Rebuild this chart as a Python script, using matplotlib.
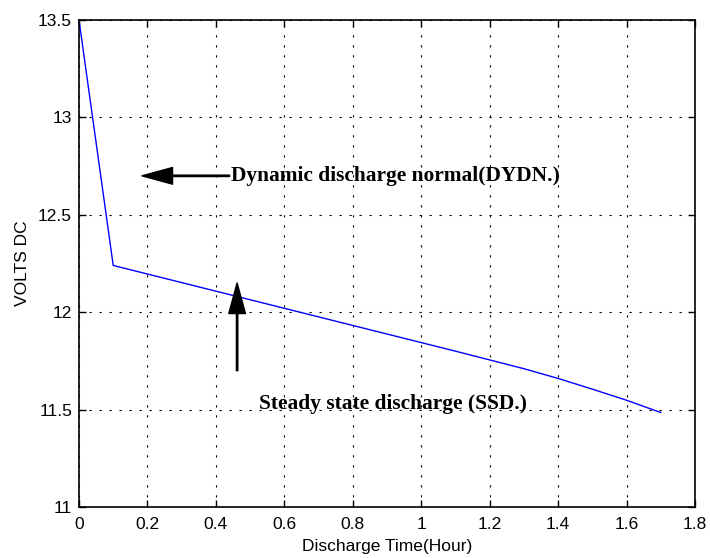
import matplotlib
matplotlib.use("Agg")
import matplotlib.pyplot as plt

time_h = [0, 0.1, 0.2, 0.3, 0.4, 0.5, 0.6, 0.7, 0.8, 0.9, 1.0, 1.1, 1.2, 1.3, 1.4, 1.5, 1.6, 1.7]
volts = [13.5, 12.24, 12.196, 12.152, 12.108, 12.064, 12.02, 11.976, 11.932, 11.888, 11.844, 11.80, 11.755, 11.71, 11.66, 11.605, 11.548, 11.485]
xticks = [0, 0.2, 0.4, 0.6, 0.8, 1, 1.2, 1.4, 1.6, 1.8]
xticklabels = ["0", "0.2", "0.4", "0.6", "0.8", "1", "1.2", "1.4", "1.6", "1.8"]
yticks = [11, 11.5, 12, 12.5, 13, 13.5]
yticklabels = ["11", "11.5", "12", "12.5", "13", "13.5"]

plt.rcParams['font.family'] = ['Liberation Sans', 'DejaVu Sans']
fig = plt.figure(figsize=(7.1, 5.58), dpi=100)
ax = fig.add_axes([79/710, 1-507/558, (695-79)/710, (507-20)/558])

ax.plot(time_h, volts, color='#0000ff', linewidth=1.0)
ax.set_xlim(0, 1.8)
ax.set_ylim(11, 13.5)
ax.set_xticks(xticks)
ax.set_xticklabels(xticklabels)
ax.set_yticks(yticks)
ax.set_yticklabels(yticklabels)
ax.tick_params(direction='in', top=True, right=True, labelsize=12.5, length=5, width=1, pad=5)
ax.tick_params(axis='x', pad=7)
for s in ax.spines.values():
    s.set_linewidth(1.2)
ax.grid(True, color='black', linestyle=(0, (2, 7)), linewidth=0.8)
ax.set_xlabel("Discharge Time(Hour)", fontsize=12.5, labelpad=5)
ax.set_ylabel("VOLTS DC", fontsize=12.5, labelpad=6)

arrow = dict(facecolor='black', edgecolor='black', width=1.0, headwidth=12, headlength=22, shrink=0)
ax.annotate("", xy=(0.184, 12.70), xytext=(0.44, 12.70), arrowprops=arrow)
ax.text(0.443, 12.70, "Dynamic discharge normal(DYDN.)", family='Liberation Serif',
        fontweight='bold', fontsize=15.4, va='center', ha='left')
ax.annotate("", xy=(0.462, 12.15), xytext=(0.462, 11.70), arrowprops=arrow)
ax.text(0.525, 11.53, "Steady state discharge (SSD.)", family='Liberation Serif',
        fontweight='bold', fontsize=15.4, va='center', ha='left')

fig.savefig("out.png", dpi=100)
